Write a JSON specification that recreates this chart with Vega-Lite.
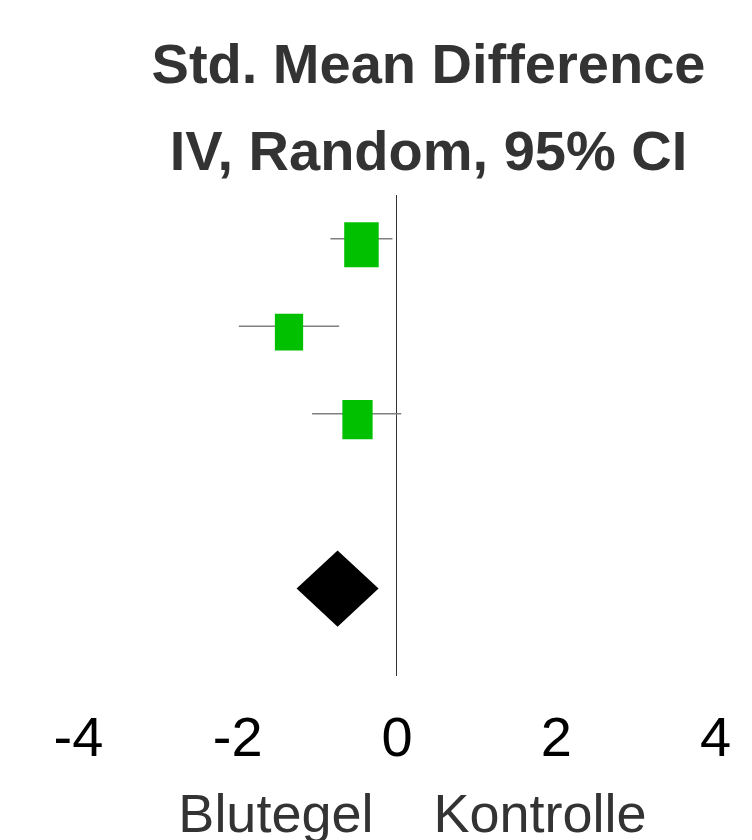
{
  "$schema": "https://vega.github.io/schema/vega-lite/v6.json",
  "width": 637,
  "height": 481,
  "autosize": "none",
  "padding": {"left": 78, "top": 195, "right": 37, "bottom": 164},
  "background": "white",
  "config": {"view": {"stroke": null}},
  "title": {
    "text": ["Std. Mean Difference", "IV, Random, 95% CI"],
    "font": "Liberation Sans",
    "fontSize": 56,
    "fontWeight": "bold",
    "color": "#333333",
    "lineHeight": 87,
    "anchor": "middle",
    "dx": 32,
    "offset": 13
  },
  "datasets": {
    "studies": [
      {"study": "Studie 1", "est": -0.44, "lo": -0.83, "hi": -0.05, "weight": 41, "row": 1},
      {"study": "Studie 2", "est": -1.35, "lo": -1.98, "hi": -0.72, "weight": 27.5, "row": 2},
      {"study": "Studie 3", "est": -0.49, "lo": -1.06, "hi": 0.06, "weight": 31.5, "row": 3}
    ],
    "summary": [
      {"study": "Gesamt", "est": -0.74, "lo": -1.26, "hi": -0.22, "row": 5}
    ]
  },
  "layer": [
    {
      "data": {"name": "summary"},
      "mark": {"type": "rule", "color": "#333333", "strokeWidth": 1},
      "encoding": {
        "x": {
          "datum": 0,
          "type": "quantitative",
          "scale": {"domain": [-4, 4], "nice": false, "zero": false},
          "axis": {
            "values": [-4, -2, 0, 2, 4],
            "domain": false,
            "ticks": false,
            "grid": false,
            "labelFont": "Liberation Sans",
            "labelFontSize": 56,
            "labelColor": "#000000",
            "labelPadding": 35,
            "labelFlush": false,
            "labelOverlap": false,
            "labelBound": false,
            "labelExpr": "'' + datum.value",
            "title": "Blutegel\u00a0\u00a0\u00a0\u00a0Kontrolle",
            "titleFont": "Liberation Sans",
            "titleFontSize": 54,
            "titleFontWeight": "normal",
            "titleColor": "#333333",
            "titlePadding": 22,
            "titleX": 334,
            "titleAlign": "center"
          }
        }
      }
    },
    {
      "data": {"name": "studies"},
      "mark": {"type": "rule", "color": "#808080", "strokeWidth": 1.5},
      "encoding": {
        "x": {"field": "lo", "type": "quantitative"},
        "x2": {"field": "hi"},
        "y": {"field": "row", "type": "quantitative", "scale": {"domain": [0.5, 6], "reverse": true, "nice": false, "zero": false}, "axis": null}
      }
    },
    {
      "data": {"name": "studies"},
      "mark": {"type": "point", "shape": "M-0.77,-1L0.77,-1L0.77,1L-0.77,1Z", "filled": true, "color": "#00C000", "opacity": 1, "yOffset": 6},
      "encoding": {
        "x": {"field": "est", "type": "quantitative"},
        "y": {"field": "row", "type": "quantitative"},
        "size": {"field": "weight", "type": "quantitative", "scale": {"type": "linear", "domain": [0, 100], "range": [0, 4900]}, "legend": null}
      }
    },
    {
      "data": {"name": "summary"},
      "mark": {"type": "point", "shape": "M-1,0L0,-0.93L1,0L0,0.93Z", "filled": true, "color": "#000000", "opacity": 1, "size": 6724},
      "encoding": {
        "x": {"field": "est", "type": "quantitative"},
        "y": {"field": "row", "type": "quantitative"}
      }
    }
  ]
}
